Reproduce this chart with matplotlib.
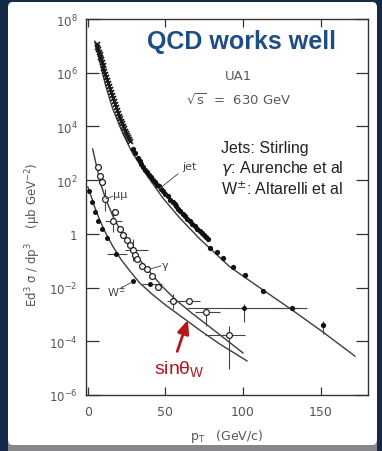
import matplotlib
matplotlib.use("Agg")
import matplotlib.pyplot as plt
import numpy as np
from matplotlib.patches import FancyBboxPatch, Rectangle
from matplotlib.ticker import NullLocator

# ---- data (pT in GeV/c, E d3sigma/dp3 in mub GeV^-2) ----
# jet data: crosses at low pT, filled dots above
jet_cross_pt = [5.7, 6.1, 6.5, 7.0, 7.6, 8.0, 8.5, 9.0, 9.5, 10.0, 10.5, 11.0, 11.5,
                12.1, 12.8, 13.4, 14.1, 14.7, 15.3, 16.0, 16.6, 17.3, 17.9, 18.5,
                19.2, 19.8, 20.5, 21.2, 21.8, 22.5, 23.1, 23.8, 24.4, 25.0, 25.7,
                26.3, 27.0]
jet_cross_xs = [1.2e7, 9.4e6, 7.6e6, 6.1e6, 5.0e6, 4.0e6, 3.2e6, 2.5e6, 1.9e6,
                1.5e6, 1.15e6, 8.9e5, 6.9e5, 5.3e5, 4.1e5, 3.2e5, 2.5e5, 1.9e5,
                1.5e5, 1.15e5, 8.9e4, 6.8e4, 5.2e4, 4.1e4, 3.2e4, 2.5e4, 2.0e4,
                1.6e4, 1.35e4, 1.05e4, 8.7e3, 7.0e3, 5.8e3, 4.9e3, 4.1e3, 3.4e3, 2.9e3]
jet_dot_pt = [28.9, 30.5, 32.0, 33.4, 34.5, 35.5, 37.0, 37.9, 39.2, 40.5, 41.8,
              43.1, 44.3, 45.6, 47.0, 48.2, 49.8, 51.5, 53.0, 54.7, 56.0, 57.0,
              58.2, 59.2, 61.0, 62.5, 64.0, 65.7, 67.4, 69.0, 70.5, 72.1, 73.5,
              74.7, 76.0, 77.3,
              78.6, 83.1, 87.0, 93.4, 101.2, 112.8, 131.5, 151.5]
jet_dot_xs = [1.45e3, 1.05e3, 6.8e2, 5.0e2, 4.0e2, 3.1e2, 2.4e2, 2.0e2, 1.5e2, 1.3e2,
              1.0e2, 85, 66, 59, 45, 40, 30, 25, 19, 15.5, 12.5, 10.5,
              8.6, 7.1, 5.5, 4.6, 3.5, 3.0, 2.3, 1.95, 1.55, 1.3, 1.05,
              0.91, 0.78, 0.65,
              0.30, 0.21, 0.126, 0.059, 0.030, 7.4e-3, 1.74e-3, 4.1e-4]
jet_theory_pt = [4.4, 7.6, 11.5, 16.0, 21.8, 28.3, 37.9, 48.2, 59.2, 72.1,
                 91.5, 110.8, 131.5, 151.5, 172.1]
jet_theory_xs = [1.5e7, 2.75e6, 3.2e5, 4.5e4, 6.8e3, 1.12e3, 155, 22, 3.9, 0.65,
                 0.059, 9.8e-3, 1.48e-3, 2.2e-4, 2.8e-5]

# direct photons / mu mu (open circles)
gam_pt = [6.3, 7.6, 8.9, 10.8, 16.0, 17.3, 20.5, 22.5, 25.0, 27.0, 28.9, 30.2,
          31.5, 34.7, 37.9, 41.2, 45.0, 54.7, 65.0, 76.0, 90.8]
gam_xs = [310, 145, 85, 20, 3.0, 6.5, 1.5, 0.91, 0.59, 0.39, 0.25, 0.162,
          0.115, 0.063, 0.049, 0.027, 0.0105, 3.2e-3, 3.2e-3, 1.23e-3, 1.74e-4]
gam_theory_pt = [3.1, 5.7, 8.3, 11.5, 16.0, 21.2, 27.0, 33.4, 39.9, 47.6, 56.6,
                 67.0, 78.6, 90.2, 99.9]
gam_theory_xs = [1.45e3, 310, 72, 20, 4.7, 1.3, 0.35, 0.107, 0.038, 0.0115,
                 3.5e-3, 1.12e-3, 3.4e-4, 1.02e-4, 3.7e-5]

# W+- (filled dots, lower left)
w_pt = [0.5, 2.5, 4.4, 6.3, 8.9, 12.1, 17.9, 28.9, 39.9, 100.5]
w_xs = [40, 15.5, 6.5, 3.0, 1.5, 0.71, 0.178, 0.0178, 0.0135, 1.74e-3]
w_theory_pt = [0.0, 1.2, 4.4, 7.6, 11.5, 16.0, 21.2, 27.0, 33.4, 41.2, 50.2,
               60.5, 72.1, 85.0, 102.5]
w_theory_xs = [56, 36, 10, 3.3, 1.07, 0.35, 0.115, 0.042, 0.0148, 5.8e-3,
               2.2e-3, 8.1e-4, 2.6e-4, 7.9e-5, 1.86e-5]

# error bars: point, x range, y range
gam_err_pt = [16.0, 10.8, 28.9, 54.7, 65.0, 76.0, 90.8]
gam_err_xs = [3.0, 20, 0.25, 3.2e-3, 3.2e-3, 1.23e-3, 1.74e-4]
gam_err_ptlo = [10.8, 10.8, 23.7, 50.8, 59.2, 68.9, 75.3]
gam_err_pthi = [21.8, 10.8, 38.6, 63.7, 72.1, 85.0, 101.0]
gam_err_lo = [1.17, 7.1, 0.098, 1.6e-3, 3.2e-3, 3.7e-4, 9.3e-6]
gam_err_hi = [8.5, 47, 0.65, 5.8e-3, 3.2e-3, 1.23e-3, 3.7e-4]

w_err_pt = [17.9, 39.9, 100.5]
w_err_xs = [0.178, 0.0135, 1.74e-3]
w_err_ptlo = [12.1, 34.7, 63.7]
w_err_pthi = [25.0, 47.6, 136.6]
w_err_lo = [0.178, 0.0135, 5.2e-4]
w_err_hi = [0.178, 0.0135, 2.45e-3]

jet_err_pt = [131.5, 151.5]
jet_err_xs = [1.74e-3, 4.1e-4]
jet_err_ptlo = [117.0, 151.5]
jet_err_pthi = [141.0, 151.5]
jet_err_lo = [1.74e-3, 1.86e-4]
jet_err_hi = [1.74e-3, 5.8e-4]

y_ticks = [1e-6, 1e-4, 1e-2, 1, 1e2, 1e4, 1e6, 1e8]
y_ticklabels = ["10$^{-6}$", "10$^{-4}$", "10$^{-2}$", "1",
                "10$^{2}$", "10$^{4}$", "10$^{6}$", "10$^{8}$"]
x_ticks = [0, 50, 100, 150]

W, H = 382, 452
plt.rcParams['font.family'] = ['Liberation Sans', 'DejaVu Sans']


def fx(x):
    return x / W


def fy(y):
    return 1 - y / H


fig = plt.figure(figsize=(W / 100, H / 100), dpi=100)
fig.patch.set_facecolor('#15294a')
fig.add_artist(Rectangle((fx(8), fy(452)), fx(369), 9 / H, transform=fig.transFigure,
                         facecolor='#85878c', edgecolor='none', zorder=0))
fig.add_artist(FancyBboxPatch((fx(8), fy(446)), fx(369), 443 / H,
                              boxstyle='round,pad=0,rounding_size=0.012',
                              transform=fig.transFigure, facecolor='white',
                              edgecolor='none', zorder=0))

ax = fig.add_axes([fx(86), fy(396), fx(368) - fx(86), fy(20) - fy(396)])
ax.set_facecolor('white')
ax.set_yscale('log')
ax.set_ylim(1e-6, 1e8)
ax.set_xlim(-1.2, 180.5)

line_c = '#3c3c3c'
ax.plot(jet_theory_pt, jet_theory_xs, color=line_c, lw=1.0)
ax.plot(gam_theory_pt, gam_theory_xs, color=line_c, lw=1.0)
ax.plot(w_theory_pt, w_theory_xs, color=line_c, lw=1.0)

eb = dict(fmt='none', ecolor='#444444', elinewidth=0.8, capsize=0)
for xs_pt, ys, lo_pt, hi_pt, lo, hi in [
        (gam_err_pt, gam_err_xs, gam_err_ptlo, gam_err_pthi, gam_err_lo, gam_err_hi),
        (w_err_pt, w_err_xs, w_err_ptlo, w_err_pthi, w_err_lo, w_err_hi),
        (jet_err_pt, jet_err_xs, jet_err_ptlo, jet_err_pthi, jet_err_lo, jet_err_hi)]:
    xs_pt = np.array(xs_pt)
    ys = np.array(ys)
    ax.errorbar(xs_pt, ys,
                xerr=[xs_pt - np.array(lo_pt), np.array(hi_pt) - xs_pt],
                yerr=[ys - np.array(lo), np.array(hi) - ys], **eb)

ax.plot(jet_cross_pt, jet_cross_xs, 'x', ms=3.6, mew=1.2, color='#1a1a1a')
ax.plot(jet_dot_pt, jet_dot_xs, 'o', ms=3.8, color='#111111', mec='none')
ax.plot(w_pt, w_xs, 'o', ms=3.6, color='#111111', mec='none')
ax.plot(gam_pt, gam_xs, 'o', ms=4.2, mfc='white', mec='#222222', mew=0.9)

# curve labels with leader lines
lab = dict(color='#444444', fontsize=8, family='DejaVu Sans')
ax.text(61.0, 330, 'jet', ha='left', va='center', **lab)
ax.annotate('', xy=(44.4, 40), xytext=(59.5, 200),
            arrowprops=dict(arrowstyle='-', color='#555555', lw=0.7))
ax.text(16.5, 30, 'μμ', ha='left', va='center', **lab)
ax.plot([11.6, 16.0], [20, 25], color='#555555', lw=0.7)
ax.text(47.5, 0.07, 'γ', ha='left', va='center', **lab)
ax.plot([40.5, 47.0], [0.05, 0.064], color='#555555', lw=0.7)
ax.text(12.5, 7.4e-3, 'W$^{\\pm}$', ha='left', va='center', **lab)
ax.plot([20.5, 28.0], [9.0e-3, 0.0155], color='#555555', lw=0.7)

# sin theta_W arrow
ax.annotate('', xy=(64.4, 6.2e-4), xytext=(57.6, 4.2e-5),
            arrowprops=dict(arrowstyle='-|>,head_length=0.8,head_width=0.35',
                            color='#b5161b', lw=2.0, shrinkA=0, shrinkB=0))
ax.text(58.8, 9.5e-6, 'sinθ$_\\mathregular{W}$', color='#b5161b', fontsize=14,
        ha='center', va='center')

ax.set_yticks(y_ticks)
ax.set_yticklabels(y_ticklabels)
ax.yaxis.set_minor_locator(NullLocator())
ax.set_xticks(x_ticks)
ax.set_xticklabels([str(t) for t in x_ticks])
ax.tick_params(axis='y', which='major', direction='in', length=9, width=0.9,
               right=True, pad=6, labelsize=8.5, labelcolor='#555555', color='#333333')
ax.tick_params(axis='x', which='major', direction='in', length=6, width=0.9,
               top=True, pad=7, labelsize=9, labelcolor='#555555', color='#333333')
for lbl in ax.get_xticklabels() + ax.get_yticklabels():
    lbl.set_family('DejaVu Sans')
for sp in ax.spines.values():
    sp.set_color('#333333')
    sp.set_linewidth(1.0)

# headline and annotations
fig.text(fx(242), fy(42), 'QCD works well', color='#1f4e85', fontsize=18,
         fontweight='bold', ha='center', va='center')
fig.text(fx(238), fy(76), 'UA1', color='#5a5a5a', fontsize=9.5,
         ha='center', va='center', family='DejaVu Sans')
fig.text(fx(239), fy(100), '$\\sqrt{\\mathregular{s}}$  =  630 GeV', color='#5a5a5a',
         fontsize=9.5, ha='center', va='center', family='DejaVu Sans')
fig.text(fx(221), fy(149), 'Jets: Stirling', color='#222222', fontsize=11.5,
         ha='left', va='center')
fig.text(fx(221), fy(169), '$\\gamma$: Aurenche et al', color='#222222', fontsize=11.5,
         ha='left', va='center')
fig.text(fx(221), fy(189), 'W$^{\\pm}$: Altarelli et al', color='#222222', fontsize=11.5,
         ha='left', va='center')

fig.text(fx(33), fy(235), 'Ed$^3$ σ / dp$^3$    (μb GeV$^{-2}$)', color='#555555',
         fontsize=8.5, rotation=90, ha='center', va='center', family='DejaVu Sans')
fig.text(fx(227), fy(437), 'p$_\\mathregular{T}$   (GeV/c)', color='#555555',
         fontsize=9, ha='center', va='center', family='DejaVu Sans')

fig.savefig('out.png', dpi=100, facecolor=fig.get_facecolor())
